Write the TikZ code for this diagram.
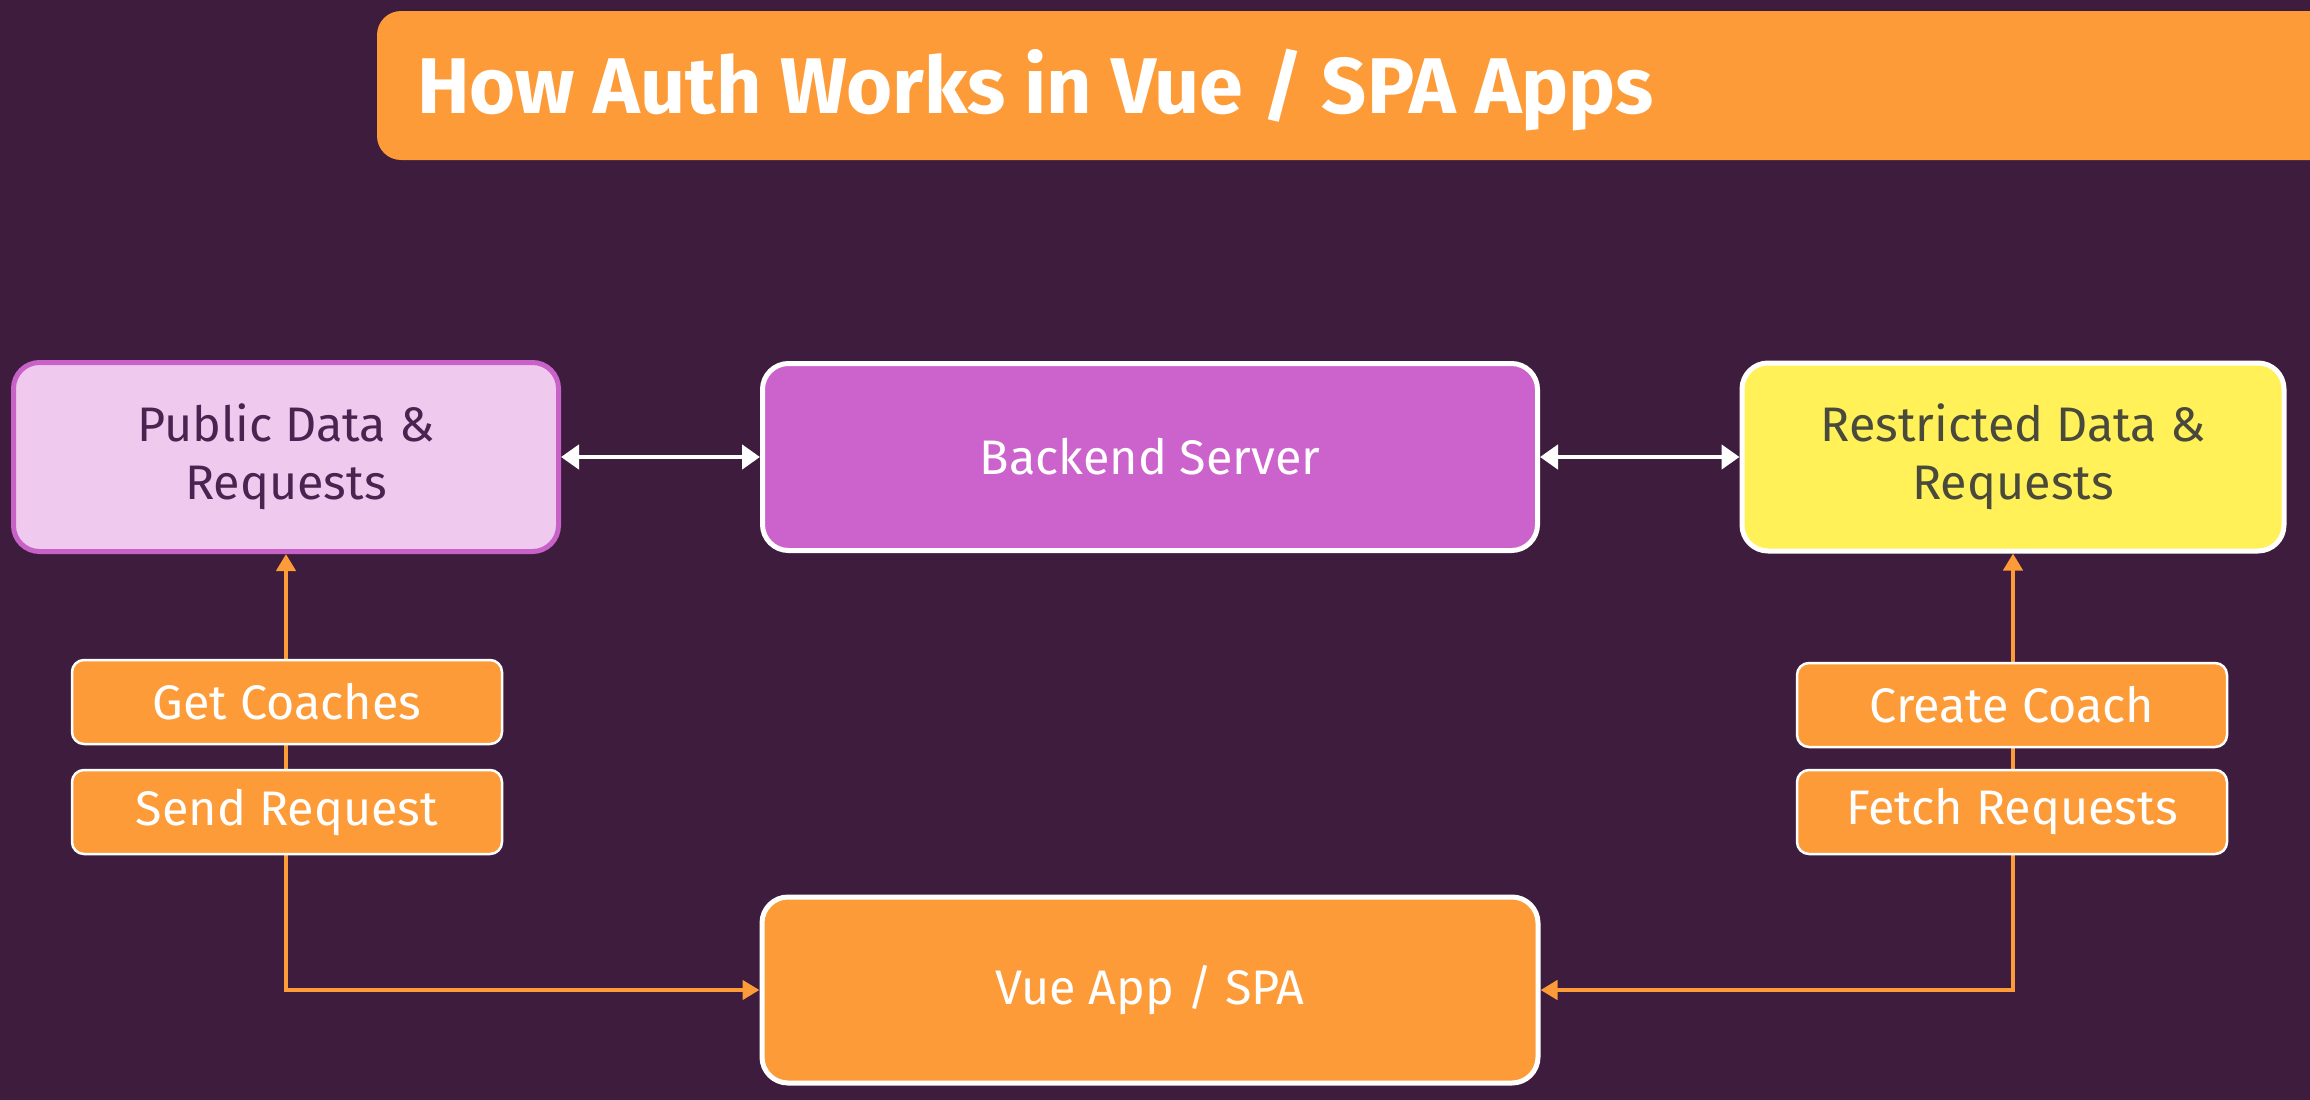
\documentclass[tikz,border=0pt]{standalone}
\usepackage{fontspec}
\setmainfont{Fira Sans}
\usetikzlibrary{arrows.meta}
\definecolor{bgc}{HTML}{3D1C3D}
\definecolor{orng}{HTML}{FD9B38}
\definecolor{mag}{HTML}{CC62CC}
\definecolor{pinkf}{HTML}{F0CAEE}
\definecolor{pinkb}{HTML}{C862C8}
\definecolor{yel}{HTML}{FFF157}
\definecolor{ptext}{HTML}{4B2350}
\definecolor{rtext}{HTML}{4A4A3C}
\pgfdeclarelayer{bg}
\pgfdeclarelayer{lines}
\pgfsetlayers{bg,lines,main}
\newcommand{\bodyfont}{\fontsize{48.5}{58}\selectfont}
\begin{document}
\begin{tikzpicture}[x=1pt,y=-1pt,
  bigbox/.style={draw=white, line width=5pt, rounded corners=26pt, inner sep=0pt, align=center, font=\bodyfont},
  smallbox/.style={draw=white, line width=2.5pt, rounded corners=12pt, fill=orng, text=white, inner sep=0pt, font=\bodyfont, minimum width=430pt, minimum height=84pt},
  wline/.style={draw=white, line width=4.5pt, {Triangle[length=18pt,width=24pt]}-{Triangle[length=18pt,width=24pt]}},
  oline/.style={draw=orng, line width=4.5pt, {Triangle[length=17pt,width=19pt]}-{Triangle[length=17pt,width=19pt]}}
]
\useasboundingbox (0,0) rectangle (2310,1100);
\begin{pgfonlayer}{bg}
\fill[bgc] (0,0) rectangle (2310,1100);
\end{pgfonlayer}
% title bar
\fill[orng] (2310,11) [rounded corners=24pt] -- (377,11) -- (377,160) [sharp corners] -- (2310,160) -- cycle;
\node[anchor=base west, inner sep=0pt, text=white, font=\fontsize{79}{82}\selectfont\bfseries] (title) at (417,113) {How Auth Works in Vue / SPA Apps};
% boxes
\node[bigbox, fill=pinkf, draw=pinkb, text=ptext, minimum width=545pt, minimum height=189pt] (pub) at (286,457) {Public Data \&\\Requests};
\node[bigbox, fill=mag, text=white, minimum width=775pt, minimum height=187pt] (back) at (1150,457) {Backend Server};
\node[bigbox, fill=yel, text=rtext, minimum width=542pt, minimum height=188pt] (rest) at (2013,457) {Restricted Data \&\\Requests};
\node[bigbox, fill=orng, text=white, minimum width=776pt, minimum height=186pt] (vue) at (1150,990) {Vue App / SPA};
\node[smallbox] (get) at (287,702) {Get Coaches};
\node[smallbox] (send) at (287,812) {Send Request};
\node[smallbox] (create) at (2012,705) {Create Coach};
\node[smallbox] (fetch) at (2012,812) {Fetch Requests};
% connectors
\draw[wline] (pub.east) -- (back.west);
\draw[wline] (back.east) -- (rest.west);
\begin{pgfonlayer}{lines}
\draw[oline] (pub.south) -- (pub.south |- vue.west) -- (vue.west);
\draw[oline] (rest.south) -- (rest.south |- vue.east) -- (vue.east);
\end{pgfonlayer}
\end{tikzpicture}
\end{document}
